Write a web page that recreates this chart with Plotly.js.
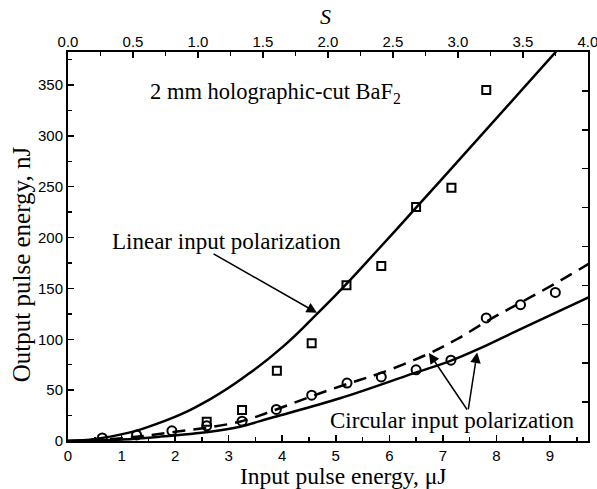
<!DOCTYPE html>
<html>
<head>
<meta charset="utf-8">
<script src="https://cdn.plot.ly/plotly-3.0.1.min.js"></script>
<style>html,body{margin:0;padding:0;background:#fff;}#chart{width:597px;height:489px;}</style>
</head>
<body>
<div id="chart"></div>
<script>
// Measured points: linear input polarization (squares)
const linearEnergy = [2.59, 3.25, 3.90, 4.55, 5.20, 5.85, 6.50, 7.16, 7.81];
const linearOutput = [19, 30.5, 69, 96, 153, 172, 230, 249, 345];
// Measured points: circular input polarization (circles)
const circEnergy = [0.64, 1.28, 1.94, 2.59, 3.25, 3.89, 4.55, 5.21, 5.85, 6.50, 7.15, 7.81, 8.45, 9.10];
const circOutput = [3, 6, 10, 15, 19.5, 31, 45, 57, 63, 70, 79.5, 121, 134, 146];
// Calculated curve: linear polarization (solid)
const linFitEnergy = [0, 0.79, 1.72, 2.65, 3.40, 4.02, 4.65, 5.21, 5.77, 6.58, 7.45, 9.10, 9.60];
const linFitOutput = [0, 4.3, 18, 41, 67, 93, 125, 155, 187, 234, 285, 382, 411];
// Calculated curve: circular polarization (dashed)
const circDashEnergy = [0, 1, 2, 3.21, 3.89, 4.55, 5.21, 5.85, 6.70, 7.26, 7.83, 8.45, 9.07, 9.75];
const circDashOutput = [0, 2.8, 9, 19, 31, 44, 56, 67, 85, 100, 118, 136, 154, 175];
// Calculated curve: circular polarization (solid)
const circSolidEnergy = [0, 1, 1.72, 2.65, 3.21, 3.83, 5.08, 6.45, 7.13, 7.69, 8.45, 9.75];
const circSolidOutput = [0, 1.5, 4.3, 9.2, 14.1, 23.3, 42, 66.5, 78.5, 91, 110, 142];
// Axis ticks
const bottomTicks = [0, 1, 2, 3, 4, 5, 6, 7, 8, 9];
const topTicks = [0, 0.5, 1, 1.5, 2, 2.5, 3, 3.5, 4];
const leftTicks = [0, 50, 100, 150, 200, 250, 300, 350];

const serif = 'Liberation Serif, Times New Roman, serif';
const sans = 'Liberation Sans, Arial, sans-serif';
const black = '#000';

const traces = [
  {x: linFitEnergy, y: linFitOutput, mode: 'lines', line: {color: black, width: 2.5, shape: 'spline', smoothing: 1.3}},
  {x: circDashEnergy, y: circDashOutput, mode: 'lines', line: {color: black, width: 2.5, dash: '13px,8px', shape: 'spline', smoothing: 1}},
  {x: circSolidEnergy, y: circSolidOutput, mode: 'lines', line: {color: black, width: 2.5, shape: 'spline', smoothing: 1}},
  {x: linearEnergy, y: linearOutput, mode: 'markers', marker: {symbol: 'square-open', size: 8, color: black, line: {width: 2, color: black}}},
  {x: circEnergy, y: circOutput, mode: 'markers', marker: {symbol: 'circle-open', size: 9, color: black, line: {width: 2, color: black}}},
  // invisible traces to activate secondary axes
  {x: [0, 4], y: [0, 0], xaxis: 'x2', yaxis: 'y', mode: 'markers', marker: {opacity: 0}},
  {x: [0, 0], y: [0, 10], xaxis: 'x', yaxis: 'y2', mode: 'markers', marker: {opacity: 0}}
];

const axisCommon = {
  showgrid: false, zeroline: false, showline: true, linecolor: black, linewidth: 2,
  ticks: 'inside', ticklen: 6, tickwidth: 1.5, tickcolor: black,
  tickfont: {family: sans, size: 15, color: black}
};

const layout = {
  width: 597, height: 489,
  margin: {l: 68, r: 9, t: 52, b: 48},
  paper_bgcolor: '#fff', plot_bgcolor: '#fff',
  showlegend: false,
  xaxis: Object.assign({}, axisCommon, {
    range: [0, 9.71], tickvals: bottomTicks, ticktext: bottomTicks.map(String),
    minor: {dtick: 0.5, tick0: 0, ticks: 'inside', ticklen: 4, tickwidth: 1.5, tickcolor: black}
  }),
  xaxis2: Object.assign({}, axisCommon, {
    overlaying: 'x', side: 'top', range: [0, 4.001], tickvals: topTicks,
    ticktext: topTicks.map(v => v.toFixed(1)), ticklabelstandoff: -3, ticklabeloverflow: 'allow',
    minor: {dtick: 0.25, tick0: 0, ticks: 'inside', ticklen: 4, tickwidth: 1.5, tickcolor: black}
  }),
  yaxis: Object.assign({}, axisCommon, {
    range: [0, 382.4], tickvals: leftTicks, ticktext: leftTicks.map(String),
    minor: {dtick: 25, tick0: 0, ticks: 'inside', ticklen: 4, tickwidth: 1.5, tickcolor: black}
  }),
  yaxis2: Object.assign({}, axisCommon, {
    overlaying: 'y', side: 'right', range: [0, 10], dtick: 1, showticklabels: false
  }),
  annotations: [
    {xref: 'paper', yref: 'paper', x: 0.528, y: -0.091, xanchor: 'center', yanchor: 'middle',
     text: 'Input pulse energy, \u03bcJ', showarrow: false, font: {family: serif, size: 23.5, color: black}},
    {xref: 'paper', yref: 'paper', x: -0.09, y: 0.455, xanchor: 'center', yanchor: 'middle', textangle: -90,
     text: 'Output pulse energy, nJ', showarrow: false, font: {family: serif, size: 25, color: black}},
    {xref: 'paper', yref: 'paper', x: 0.496, y: 1.09, xanchor: 'center', yanchor: 'middle',
     text: '<i>S</i>', showarrow: false, font: {family: serif, size: 22, color: black}},
    {xref: 'x', yref: 'y', x: 1.49, y: 342, xanchor: 'left', yanchor: 'middle',
     text: '2 mm holographic-cut BaF<sub>2</sub>', showarrow: false, font: {family: serif, size: 22.5, color: black}},
    {xref: 'x', yref: 'y', x: 0.78, y: 196, xanchor: 'left', yanchor: 'middle',
     text: 'Linear input polarization', showarrow: false, font: {family: serif, size: 23, color: black}},
    {xref: 'x', yref: 'y', x: 4.85, y: 20.6, xanchor: 'left', yanchor: 'middle',
     text: 'Circular input polarization', showarrow: false, font: {family: serif, size: 23, color: black}},
    {xref: 'x', yref: 'y', axref: 'x', ayref: 'y', x: 4.65, y: 126, ax: 2.69, ay: 184.8, text: '',
     showarrow: true, arrowhead: 2, arrowsize: 1.4, arrowwidth: 1.5, arrowcolor: black, standoff: 0},
    {xref: 'x', yref: 'y', axref: 'x', ayref: 'y', x: 6.74, y: 86.5, ax: 7.47, ay: 29.5, text: '',
     showarrow: true, arrowhead: 2, arrowsize: 1.4, arrowwidth: 1.5, arrowcolor: black, standoff: 0},
    {xref: 'x', yref: 'y', axref: 'x', ayref: 'y', x: 7.64, y: 87, ax: 7.47, ay: 29.5, text: '',
     showarrow: true, arrowhead: 2, arrowsize: 1.4, arrowwidth: 1.5, arrowcolor: black, standoff: 0}
  ]
};

Plotly.newPlot('chart', traces, layout, {staticPlot: true, displayModeBar: false});
</script>
</body>
</html>
